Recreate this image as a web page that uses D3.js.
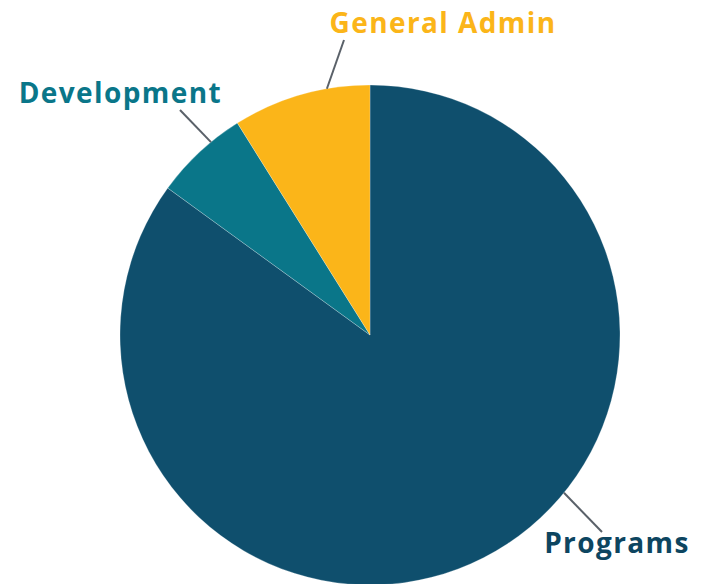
<!DOCTYPE html>
<html>
<head>
<meta charset="utf-8">
<script src="https://cdn.jsdelivr.net/npm/d3@7"></script>
<style>
  body { margin: 0; background: #fff; }
  svg { display: block; }
</style>
</head>
<body>
<div id="chart"></div>
<script>
const categories = ["Programs", "Development", "General Admin"];
const values = [85, 6.1, 8.9];
const colors = ["#0f4f6d", "#0a7689", "#fbb519"];
const labelColors = ["#0d4560", "#0a7689", "#fbb519"];

const width = 706, height = 584;
const cx = 370, cy = 335, radius = 250;

const svg = d3.select("#chart")
  .append("svg")
  .attr("width", width)
  .attr("height", height);

const data = categories.map((c, i) => ({ name: c, value: values[i], i }));

const pie = d3.pie().sort(null).value(d => d.value);
const arc = d3.arc().innerRadius(0).outerRadius(radius);
const arcs = pie(data);

const g = svg.append("g").attr("transform", `translate(${cx},${cy})`);

g.selectAll("path")
  .data(arcs)
  .join("path")
  .attr("d", arc)
  .attr("fill", d => colors[d.data.i])
  .attr("stroke", "#ffffff")
  .attr("stroke-opacity", 0.4)
  .attr("stroke-width", 0.6);

// where the connector leaves the slice (fraction of the slice angle), and the label offset from the pie center
const labelPos = [
  { t: 0.422, lx: 232, ly: 197, tx: 247, ty: 218, anchor: "middle" },
  { t: 0.66, lx: -190, ly: -225, tx: -148, ty: -232, anchor: "end" },
  { t: 0.69, lx: -26, ly: -295, tx: 73, ty: -302, anchor: "middle" }
];

const pt = (a, r) => [Math.sin(a) * r, -Math.cos(a) * r];

arcs.forEach((d, k) => {
  const p = labelPos[k];
  const a = d.startAngle + (d.endAngle - d.startAngle) * p.t;
  const s = pt(a, radius);
  g.append("line")
    .attr("x1", s[0]).attr("y1", s[1])
    .attr("x2", p.lx).attr("y2", p.ly)
    .attr("stroke", "#5a6169")
    .attr("stroke-width", 2);
  g.append("text")
    .attr("x", p.tx)
    .attr("y", p.ty)
    .attr("text-anchor", p.anchor)
    .attr("fill", labelColors[d.data.i])
    .style("font-family", "'Open Sans', Lato, sans-serif")
    .style("font-weight", "bold")
    .style("font-size", "28px")
    .style("letter-spacing", "1.4px")
    .text(d.data.name);
});
</script>
</body>
</html>
